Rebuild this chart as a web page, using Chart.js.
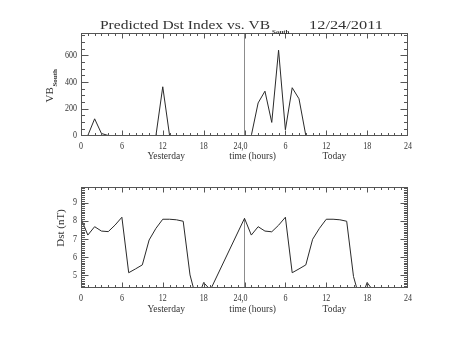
<!DOCTYPE html>
<html>
<head>
<meta charset="utf-8">
<script src="https://cdn.jsdelivr.net/npm/chart.js@4.4.1/dist/chart.umd.min.js"></script>
<style>
  html, body { margin: 0; padding: 0; background: #fff; }
  #wrap { position: relative; width: 453px; height: 340px; }
  canvas { position: absolute; left: 0; top: 0; }
</style>
</head>
<body>
<div id="wrap">
  <canvas id="vbChart" width="453" height="340"></canvas>
  <canvas id="dstChart" width="453" height="340"></canvas>
</div>
<script>
// hours since midnight yesterday
const VB_HOURS = [0,1,2,3,4,5,6,7,8,9,10,11,12,13,14,15,16,17,18,19,20,21,22,23,
  24,25,26,27,28,29,30,31,32,33,34,35,36,37,38,39,40,41,42,43];
const VB_SOUTH = [0,0,125,15,0,0,0,0,0,0,0,0,365,0,0,0,0,0,0,0,0,0,0,0,
  0,0,244,332,98,639,43,358,275,0,0,0,0,0,0,0,0,0,0,0];

const DST_HOURS = [0,1,2,3,4,5,6,7,8,9,10,11,12,13,14,15,16,17,18,19,
  24,25,26,27,28,29,30,31,32,33,34,35,36,37,38,39,40,41,42,43];
const DST = [8.13,7.21,7.67,7.43,7.40,7.76,8.19,5.14,5.35,5.57,6.94,7.58,8.08,8.08,8.05,7.97,5.02,3.6,4.6,4.2,
  8.13,7.21,7.67,7.43,7.39,7.75,8.19,5.14,5.35,5.57,6.98,7.58,8.08,8.08,8.05,7.97,4.93,3.6,4.6,4.1];

const NOW_HOUR = 24;
const VB_NOW_LINE = [0, 768];
const DST_NOW_LINE = [0, 8.13];

const X_TICKS = [0, 6, 12, 18, 24, 30, 36, 42, 48];
const X_TICK_LABELS = ["0", "6", "12", "18", "24,0", "6", "12", "18", "24"];
const X_TITLES = ["Yesterday", "time (hours)", "Today"];
const X_TITLE_HOURS = [12.5, 25.2, 37.2];

const VB_TICKS = [0, 200, 400, 600];
const DST_TICKS = [5, 6, 7, 8, 9];

const TITLE = "Predicted Dst Index vs. VB";
const TITLE_SUB = "South";
const TITLE_DATE = "12/24/2011";

const FONT = '"Liberation Serif", "DejaVu Serif", serif';
const INK = "#333";

const toPoints = (xs, ys) => xs.map((x, i) => ({ x, y: ys[i] }));

const drawText = (ctx, text, x, y, size, align, squeeze = 1, baseline = "middle") => {
  ctx.save();
  ctx.translate(x, y);
  ctx.scale(squeeze, 1);
  ctx.font = `${size}px ${FONT}`;
  ctx.textAlign = align;
  ctx.textBaseline = baseline;
  ctx.fillStyle = INK;
  ctx.fillText(text, 0, 0);
  ctx.restore();
};

// IDL-style frame: inward ticks on all four sides, labels on left/bottom
const idlAxes = {
  id: "idlAxes",
  afterDraw(chart, args, opts) {
    const { ctx, chartArea: a } = chart;
    const xs = chart.scales.x;
    const ys = chart.scales.y;
    const L = Math.round(a.left) + 0.5, R = Math.round(a.right) - 0.5;
    const T = Math.round(a.top) + 0.5, B = Math.round(a.bottom) - 0.5;
    const clampX = (p) => Math.min(R, Math.max(L, p));
    const clampY = (p) => Math.min(B, Math.max(T, p));

    ctx.save();
    ctx.strokeStyle = "#555";
    ctx.lineWidth = 1;
    ctx.strokeRect(L, T, R - L, B - T);

    ctx.beginPath();
    // x ticks
    for (let h = xs.min; h <= xs.max + 1e-6; h += opts.xMinor) {
      const major = X_TICKS.some((t) => Math.abs(t - h) < 1e-6);
      const len = major ? 5 : 2.5;
      const px = clampX(Math.round(xs.getPixelForValue(h)) + 0.5);
      ctx.moveTo(px, B); ctx.lineTo(px, B - len);
      ctx.moveTo(px, T); ctx.lineTo(px, T + len);
    }
    // y ticks
    const yStart = Math.ceil(ys.min / opts.yMinor) * opts.yMinor;
    for (let v = yStart; v <= ys.max + 1e-6; v += opts.yMinor) {
      const major = opts.yTicks.some((t) => Math.abs(t - v) < 1e-6);
      const len = major ? 7 : 3.5;
      const py = clampY(Math.round(ys.getPixelForValue(v)) + 0.5);
      ctx.moveTo(L, py); ctx.lineTo(L + len, py);
      ctx.moveTo(R, py); ctx.lineTo(R - len, py);
    }
    ctx.stroke();

    // tick labels
    X_TICKS.forEach((t, i) => {
      let px = xs.getPixelForValue(t);
      if (X_TICK_LABELS[i].includes(",")) px -= 4;
      drawText(ctx, X_TICK_LABELS[i], px, a.bottom + 10.5, 10, "center", 0.8);
    });
    X_TITLES.forEach((s, i) => {
      drawText(ctx, s, xs.getPixelForValue(X_TITLE_HOURS[i]), a.bottom + 21, 10, "center", 0.95);
    });
    opts.yTicks.forEach((t) => {
      drawText(ctx, String(t), a.left - 4, ys.getPixelForValue(t), 10, "right", 0.8);
    });

    // y axis title, rotated
    ctx.save();
    ctx.translate(opts.yTitleX, opts.yTitleY);
    ctx.rotate(-Math.PI / 2);
    ctx.fillStyle = INK;
    ctx.textBaseline = "alphabetic";
    ctx.font = `11px ${FONT}`;
    const mainW = ctx.measureText(opts.yTitle).width;
    let total = mainW;
    if (opts.yTitleSub) {
      ctx.font = `bold 7px ${FONT}`;
      total += ctx.measureText(opts.yTitleSub).width;
    }
    ctx.font = `11px ${FONT}`;
    ctx.textAlign = "left";
    ctx.fillText(opts.yTitle, -total / 2, 4);
    if (opts.yTitleSub) {
      ctx.font = `bold 7px ${FONT}`;
      ctx.fillText(opts.yTitleSub, -total / 2 + mainW + 0.5, 8);
    }
    ctx.restore();

    if (opts.title) {
      ctx.fillStyle = INK;
      ctx.font = `13px ${FONT}`;
      ctx.textAlign = "left";
      ctx.textBaseline = "alphabetic";
      const w = ctx.measureText(TITLE).width;
      ctx.save();
      ctx.translate(100, 28.5);
      ctx.scale(170 / w, 1);
      ctx.fillText(TITLE, 0, 0);
      ctx.restore();
      ctx.font = `bold 7px ${FONT}`;
      ctx.fillText(TITLE_SUB, 272, 33.5);
      ctx.font = `13px ${FONT}`;
      const dw = ctx.measureText(TITLE_DATE).width;
      ctx.save();
      ctx.translate(309, 28.5);
      ctx.scale(74 / dw, 1);
      ctx.fillText(TITLE_DATE, 0, 0);
      ctx.restore();
    }
    ctx.restore();
  },
};

const makeChart = (id, points, nowLine, yMin, yMax, padding, axisOpts) => new Chart(document.getElementById(id), {
  type: "line",
  data: {
    datasets: [
      {
        data: points,
        borderColor: "#2a2a2a",
        borderWidth: 1,
        pointRadius: 0,
        tension: 0,
        fill: false,
      },
      {
        data: nowLine.map((y) => ({ x: NOW_HOUR, y })),
        borderColor: "#8c8c8c",
        borderWidth: 1,
        pointRadius: 0,
        fill: false,
      },
    ],
  },
  options: {
    responsive: false,
    animation: false,
    events: [],
    layout: { padding },
    plugins: { legend: { display: false }, tooltip: { enabled: false }, idlAxes: axisOpts },
    scales: {
      x: { type: "linear", min: 0, max: 48, display: false },
      y: { type: "linear", min: yMin, max: yMax, display: false },
    },
  },
  plugins: [idlAxes],
});

makeChart("vbChart", toPoints(VB_HOURS, VB_SOUTH), VB_NOW_LINE, 0, 768,
  { left: 81, right: 45, top: 33, bottom: 204.5 },
  { xMinor: 1, yTicks: VB_TICKS, yMinor: 50, yTitle: "VB", yTitleSub: "South", yTitleX: 49, yTitleY: 86, title: true });

makeChart("dstChart", toPoints(DST_HOURS, DST), DST_NOW_LINE, 4.3, 9.88,
  { left: 81, right: 45, top: 186.5, bottom: 52 },
  { xMinor: 1, yTicks: DST_TICKS, yMinor: 0.1, yTitle: "Dst (nT)", yTitleX: 60, yTitleY: 228, title: false });
</script>
</body>
</html>
